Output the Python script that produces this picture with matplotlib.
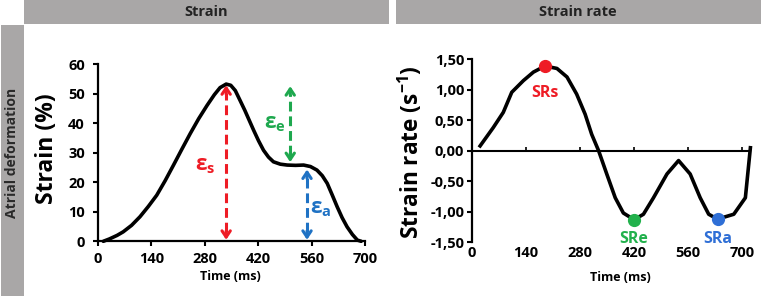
import matplotlib
matplotlib.use("Agg")
import matplotlib.pyplot as plt
from matplotlib.patches import Rectangle

plt.rcParams['font.family'] = ['Open Sans', 'DejaVu Sans']
plt.rcParams['font.weight'] = 'bold'
plt.rcParams['mathtext.fontset'] = 'custom'
plt.rcParams['mathtext.rm'] = 'Open Sans:bold'
plt.rcParams['mathtext.it'] = 'Open Sans:bold'
plt.rcParams['mathtext.bf'] = 'Open Sans:bold'

# ---------------- data ----------------
strain_time = [14, 30, 50, 66, 88, 110, 132, 154, 176, 198, 220, 242, 264, 286,
               305, 320, 336, 348, 360, 372, 385, 397, 408, 421, 434, 447, 460,
               478, 496, 518, 539, 557, 574, 588, 601, 614, 627, 640, 653, 667,
               680, 690]
strain_vals = [0, 0.8, 2.0, 3.2, 5.4, 8.3, 11.8, 15.6, 20.5, 25.8, 31.2, 36.5,
               41.5, 46, 49.6, 52, 53.2, 52.8, 51, 47.8, 44.3, 40.8, 37.6, 34,
               30.8, 28.5, 26.9, 26.1, 25.8, 25.7, 25.8, 25.3, 24.1, 22.2, 19.6,
               15.7, 11.7, 8.0, 4.9, 2.3, 0.4, 0]

arrow_names = ['s', 'e', 'a']
arrow_x = [336, 504, 548]
arrow_bottom = [0.5, 26.8, 0.5]
arrow_top = [52.8, 52.5, 24.3]
arrow_label_x = [281, 465, 583]
arrow_label_y = [25.5, 40, 11]

sr_time = [21, 55, 81, 103, 133, 159, 189, 220, 246, 271, 293, 310, 328, 349,
           371, 392, 420, 444, 470, 505, 535, 565, 591, 613, 636, 678, 708, 721]
sr_vals = [0.08, 0.38, 0.63, 0.96, 1.15, 1.29, 1.39, 1.35, 1.21, 0.93, 0.60,
           0.27, 0.0, -0.38, -0.77, -1.02, -1.13, -1.04, -0.77, -0.38, -0.16,
           -0.38, -0.77, -1.04, -1.12, -1.04, -0.77, 0.05]

peak_names = ['SRs', 'SRe', 'SRa']
peak_time = [189, 420, 636]
peak_vals = [1.39, -1.13, -1.12]
peak_label_y = [0.94, -1.45, -1.45]

x_ticks = [0, 140, 280, 420, 560, 700]
strain_yticks = [0, 10, 20, 30, 40, 50, 60]
sr_yticks = [-1.5, -1.0, -0.5, 0.0, 0.5, 1.0, 1.5]
sr_yticklabels = ['-1,50', '-1,00', '-0,50', '0,00', '0,50', '1,00', '1,50']

arrow_colors = ['#ee1c25', '#1ea84e', '#1f72c4']
peak_colors = ['#ee1c25', '#22b14c', '#2f6fd6']

# ---------------- figure ----------------
W, H = 762, 298
fig = plt.figure(figsize=(W / 100, H / 100), dpi=100)
gray = '#a9a7a7'

def frect(x0, y0, x1, y1):
    fig.patches.append(Rectangle((x0 / W, 1 - y1 / H), (x1 - x0) / W, (y1 - y0) / H,
                                 transform=fig.transFigure, facecolor=gray,
                                 edgecolor='none', zorder=0))

frect(1, 25, 24, 296)
frect(24, 0, 389, 24)
frect(396, 0, 761, 24)
fig.text(206 / W, 1 - 12.5 / H, 'Strain', ha='center', va='center', fontsize=10.5,
         color='#222222', weight='bold')
fig.text(578 / W, 1 - 12.5 / H, 'Strain rate', ha='center', va='center', fontsize=10.5,
         color='#222222', weight='bold')
fig.text(12.5 / W, 1 - 153 / H, 'Atrial deformation', ha='center', va='center',
         rotation=90, fontsize=10, color='#2a2a2a', weight='bold')

lw_curve = 2.6
spine_w = 1.6

# ---------------- left: strain ----------------
ax1 = fig.add_axes([98 / W, 1 - 241.3 / H, 267 / W, 177.3 / H])
ax1.plot(strain_time, strain_vals, color='black', lw=lw_curve, solid_capstyle='round',
         solid_joinstyle='round', clip_on=False, zorder=3)
ax1.set_xlim(0, 700)
ax1.set_ylim(0, 60)
ax1.set_xticks(x_ticks)
ax1.set_yticks(strain_yticks)
for s in ['top', 'right']:
    ax1.spines[s].set_visible(False)
for s in ['left', 'bottom']:
    ax1.spines[s].set_linewidth(spine_w)
ax1.tick_params(axis='both', length=3.5, width=1.5, labelsize=10.5)
ax1.tick_params(axis='y', pad=6)
ax1.tick_params(axis='x', pad=4)
for lab in ax1.get_xticklabels() + ax1.get_yticklabels():
    lab.set_fontweight('bold')
ax1.set_ylabel('Strain (%)', fontsize=16.5, fontweight='bold')
ax1.yaxis.set_label_coords(-0.145, 0.523)
ax1.set_xlabel('Time (ms)', fontsize=9, fontweight='bold', labelpad=4)
ax1.xaxis.set_label_coords(132 / 267, -0.16)

for name, x, b, t, lx, ly, c in zip(arrow_names, arrow_x, arrow_bottom, arrow_top,
                                    arrow_label_x, arrow_label_y, arrow_colors):
    ax1.vlines(x, b + 2.5, t - 2.5, colors=c, linestyles=(0, (3.2, 1.6)), lw=2.2, zorder=2)
    ax1.annotate('', xy=(x, t), xytext=(x, t - 3), zorder=2,
                 arrowprops=dict(arrowstyle='->,head_length=0.45,head_width=0.3',
                                 color=c, lw=2.2, shrinkA=0, shrinkB=0))
    ax1.annotate('', xy=(x, b), xytext=(x, b + 3), zorder=2,
                 arrowprops=dict(arrowstyle='->,head_length=0.45,head_width=0.3',
                                 color=c, lw=2.2, shrinkA=0, shrinkB=0))
    ax1.text(lx, ly, 'ε$_{\\mathrm{' + name + '}}$', color=c, fontsize=15,
             ha='center', va='center', fontweight='bold')

# ---------------- right: strain rate ----------------
ax2 = fig.add_axes([472 / W, 1 - 242.3 / H, 278 / W, 183 / H])
ax2.plot(sr_time, sr_vals, color='black', lw=lw_curve, solid_joinstyle='round',
         clip_on=False, zorder=3)
for name, t, v, ly, c in zip(peak_names, peak_time, peak_vals, peak_label_y, peak_colors):
    ax2.plot([t], [v], 'o', color=c, ms=8.5, zorder=4, clip_on=False)
    ax2.text(t, ly, name, color=c, fontsize=11.5, ha='center', va='center',
             fontweight='bold')
ax2.set_xlim(0, 720)
ax2.set_ylim(-1.5, 1.5)
ax2.set_xticks(x_ticks)
ax2.set_yticks(sr_yticks)
ax2.set_yticklabels(sr_yticklabels)
for s in ['top', 'right', 'bottom']:
    ax2.spines[s].set_visible(False)
ax2.spines['left'].set_linewidth(spine_w)
ax2.tick_params(axis='x', length=0, labelsize=10.5, pad=3)
ax2.tick_params(axis='y', length=3.5, width=1.5, labelsize=10.5, pad=2)
for lab in ax2.get_xticklabels() + ax2.get_yticklabels():
    lab.set_fontweight('bold')
sec = ax2.secondary_xaxis(0.5)
sec.set_xticks(x_ticks)
sec.tick_params(axis='x', length=3, width=1.2, labelbottom=False, labeltop=False,
                direction='out')
sec.spines['bottom'].set_linewidth(1.5)
sec.spines['top'].set_linewidth(1.5)
ax2.set_ylabel('Strain rate (s$^{-1}$)', fontsize=16.3, fontweight='bold')
ax2.yaxis.set_label_coords(-0.168, 0.49)
ax2.set_xlabel('Time (ms)', fontsize=9, fontweight='bold', labelpad=1)
ax2.xaxis.set_label_coords(148 / 278, -0.155)

fig.savefig('out.png', dpi=100)
